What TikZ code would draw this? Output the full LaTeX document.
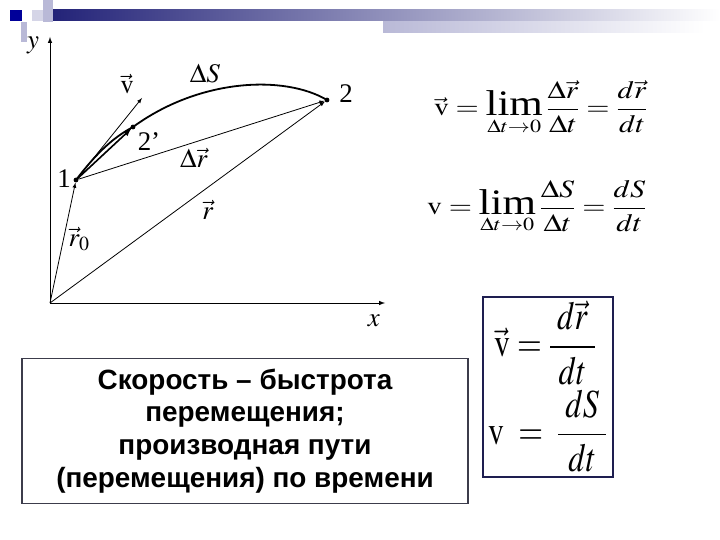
\documentclass[tikz,border=0pt]{standalone}
\usepackage{amsmath}
\usepackage{mathptmx}
\usepackage{fontspec}
\setmainfont{Liberation Serif}
\newfontfamily\labelfont{Liberation Sans}
\definecolor{navy}{RGB}{35,35,120}
\definecolor{lavender}{RGB}{185,185,215}
\definecolor{boxgray}{RGB}{60,60,75}
\definecolor{boxnavy}{RGB}{30,30,80}
\tikzset{
	vec/.style={-latex, line width=0.8bp},
	dot/.style={circle, fill, inner sep=1.7bp},
	lbl/.style={font=\fontsize{27}{27}\selectfont, inner sep=1bp},
	frm/.style={font=\fontsize{25}{30}\selectfont},
	big/.style={font=\fontsize{40}{44}\selectfont, anchor=west, inner sep=0pt}
}
\newcommand{\biglim}{\mathop{\hbox{\fontsize{36}{36}\selectfont lim}}\limits}
\begin{document}
\begin{tikzpicture}[x=1bp, y=-1bp]
		\useasboundingbox (0,0) rectangle (720,540);
		% header bar
		\shade[left color=navy, right color=white] (53,10) rectangle (720,21);
		\shade[left color=lavender, right color=white] (383,22) rectangle (705,33);
		\fill[lavender!60] (32,10) rectangle (43,21);
		\fill[lavender] (43,0) rectangle (53,22);
		\fill[lavender] (21,22) rectangle (27,42);
		\fill[blue!60!black] (10,10) rectangle (22,21);
		
		% axes
		\coordinate (O) at (50,303);
		\coordinate (ytip) at (50,37);
		\coordinate (xtip) at (385,303);
		\draw[-latex, line width=1bp] (O) -- (ytip);
		\draw[-latex, line width=1bp] (O) -- (xtip);
		\node[lbl] (ylab) at (33,45) {$y$};
		\node[lbl] (xlab) at (374,321) {$x$};
		
		% points of the path
		\node[dot] (p1) at (76,180) {};
		\node[dot] (p2s) at (133,127) {};
		\node[dot] (p2) at (327,100) {};
		\coordinate (vtip) at (142,98);
		\draw[line width=1.8bp] (p1.center) .. controls (95,155) and (112,138) .. (p2s.center)
			.. controls (200,78) and (285,75) .. (p2.center);
		
		% vectors
		\draw[vec] (O) -- (p1);
		\draw[vec] (O) -- (p2);
		\draw[vec] (p1) -- (p2);
		\draw[vec] (p1) -- (vtip);
		\draw[-latex, line width=1.6bp] (p1) -- (p2s);
		
		\node[lbl] (l1) at (64,179) {1};
		\node[lbl] (l2s) at (149,142) {2’};
		\node[lbl] (l2) at (346,94) {2};
		\node[lbl] (lv) at (127,84) {$\vec{\mathrm{v}}$};
		\node[lbl] (lS) at (205,74) {$\Delta S$};
		\node[lbl] (ldr) at (194,158) {$\Delta\vec{r}$};
		\node[lbl] (lr) at (208,210) {$\vec{r}$};
		\node[lbl] (lr0) at (79,239) {$\vec{r}_0$};
		
		% formulas
		\node[frm] (fvec) at (541,108) {\scalebox{1.2}[1]{$\displaystyle \vec{\mathrm{v}}=\biglim_{\Delta t\to 0}\frac{\Delta\vec{r}}{\Delta t}=\frac{d\vec{r}}{dt}$}};
		\node[frm] (fsc) at (537,207) {\scalebox{1.2}[1]{$\displaystyle \mathrm{v}=\biglim_{\Delta t\to 0}\frac{\Delta S}{\Delta t}=\frac{dS}{dt}$}};
		
		% definition box
		\node[draw=boxgray, line width=1.5bp, minimum width=446bp, minimum height=145bp, align=center,
			font=\labelfont\bfseries\fontsize{28}{33}\selectfont] (defbox) at (245,431)
			{Скорость – быстрота\\перемещения;\\производная пути\\(перемещения) по времени};
		
		% summary box
		\node[draw=boxnavy, line width=2.5bp, minimum width=130bp, minimum height=180bp] (sumbox) at (548,387) {};
		\node[big] (svec) at (494,343) {\scalebox{0.8}[1]{$\vec{\mathrm{v}}=\dfrac{\;d\vec{r}\;}{dt}$}};
		\node[big] (ssc) at (488,431) {\scalebox{0.8}[1]{$\mathrm{v}\;=\;\dfrac{\;dS\;}{dt}$}};
\end{tikzpicture}
\end{document}
